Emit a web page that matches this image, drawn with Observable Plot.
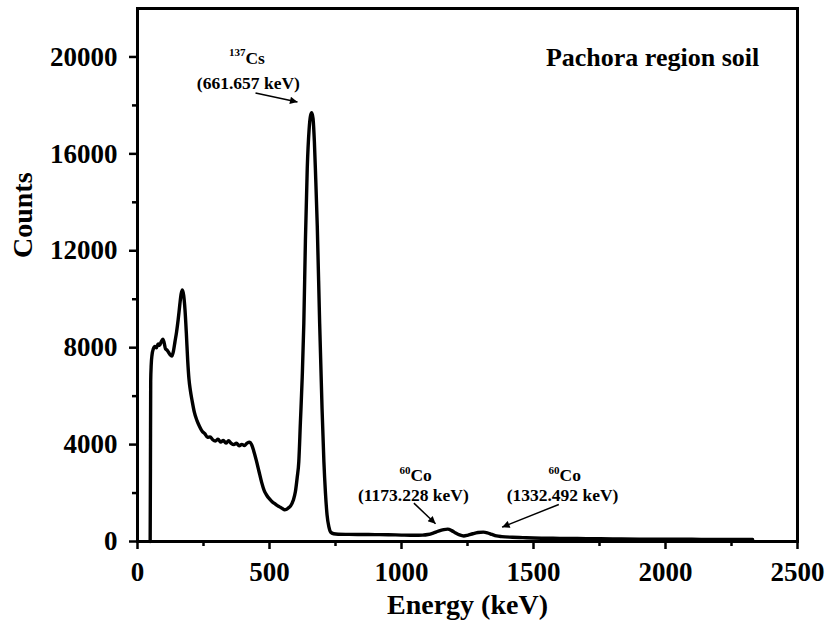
<!DOCTYPE html>
<html>
<head>
<meta charset="utf-8">
<script src="https://cdn.jsdelivr.net/npm/d3@7"></script>
<script src="https://cdn.jsdelivr.net/npm/@observablehq/plot@0.6"></script>
<style>
  html, body { margin: 0; padding: 0; background: #fff; }
</style>
</head>
<body>
<div id="chart"></div>
<script>
// ---- Spectrum data ----
const energyKeV = [
  48, 49, 50, 52, 55, 60, 66, 72, 78, 84, 90, 96, 101, 106, 112, 118, 124, 130, 136, 142,
  148, 154, 160, 165, 170, 175, 180, 185, 190, 195, 200, 207, 215, 225, 235, 245, 255, 265, 275, 285,
  295, 305, 315, 325, 335, 345, 355, 365, 375, 385, 395, 405, 415, 425, 432, 440, 450, 460, 470, 480,
  490, 500, 510, 520, 530, 540, 550, 557, 565, 572, 580, 590, 598, 605, 611, 617, 624, 630, 636, 643,
  650, 655, 660, 665, 670, 675, 681, 690, 699, 706, 712, 718, 725, 732, 743, 760, 800, 850, 900, 950,
  1000, 1050, 1080, 1100, 1120, 1140, 1160, 1175, 1190, 1205, 1220, 1236, 1250, 1270, 1290, 1310, 1325, 1343, 1360, 1380,
  1420, 1460, 1500, 1600, 1700, 1800, 1900, 2000, 2100, 2200, 2330
];
const countsValues = [
  0, 3000, 6600, 7300, 7700, 7950, 8050, 8000, 8150, 8100, 8250, 8350, 8200, 7950, 7900, 7800, 7700, 7650, 7850, 8250,
  8650, 9150, 9750, 10200, 10380, 10150, 9550, 8600, 7500, 6700, 6250, 5800, 5350, 5000, 4750, 4550, 4450, 4300, 4320, 4200,
  4150, 4220, 4100, 4170, 4060, 4160, 4050, 4000, 4060, 3950, 4010, 3960, 4060, 4100, 4000, 3750, 3350, 2900, 2450, 2100,
  1900, 1760, 1640, 1560, 1480, 1420, 1350, 1310, 1330, 1390, 1470, 1700, 2050, 2650, 3300, 4900, 6800, 9000, 12400, 15400,
  17000, 17550, 17700, 17450, 16500, 15000, 13000, 9000, 5500, 3300, 2000, 1100, 600, 380, 320, 300, 295, 290, 285, 280,
  265, 255, 265, 290, 350, 430, 490, 510, 450, 350, 270, 230, 255, 320, 370, 385, 360, 290, 230, 200,
  175, 160, 145, 130, 120, 110, 100, 95, 90, 85, 80
];

// ---- Axis ticks ----
const xMajorTicks = [0, 500, 1000, 1500, 2000, 2500];
const xMinorTicks = [250, 750, 1250, 1750, 2250];
const yMajorTicks = [0, 4000, 8000, 12000, 16000, 20000];
const yMinorTicks = [2000, 6000, 10000, 14000, 18000];

// ---- Texts ----
const titleText = ["Pachora region soil"];
const xLabel = ["Energy (keV)"];
const yLabel = ["Counts"];

// ---- Peak annotations (positions in data units: keV, counts) ----
const isotopeMass = ["137", "60", "60"];
const isotopeElement = ["Cs", "Co", "Co"];
const peakEnergyText = ["(661.657 keV)", "(1173.228 keV)", "(1332.492 keV)"];
const labelEnergy = [420, 1045, 1610];
const labelTopCounts = [19960, 2730, 2730];
const labelLineCounts = [18920, 1900, 1900];
const arrowFromEnergy = [447, 1047, 1596];
const arrowFromCounts = [18510, 1583, 1529];
const arrowToEnergy = [606, 1129, 1381];
const arrowToCounts = [18140, 731, 592];
const titleEnergy = [1951];
const titleCounts = [19960];

// ---- Build tables ----
const spectrum = energyKeV.map((e, i) => ({energy: e, counts: countsValues[i]}));
const labels = isotopeElement.map((el, i) => ({
  mass: isotopeMass[i], el, line: peakEnergyText[i],
  x: labelEnergy[i], yTop: labelTopCounts[i], yLine: labelLineCounts[i]
}));
const arrows = arrowFromEnergy.map((x1, i) => ({
  x1, y1: arrowFromCounts[i], x2: arrowToEnergy[i], y2: arrowToCounts[i]
}));
const titles = titleText.map((t, i) => ({t, x: titleEnergy[i], y: titleCounts[i]}));

const fmt = d3.format("d");

const plot = Plot.plot({
  width: 828,
  height: 631,
  marginLeft: 137,
  marginRight: 31,
  marginTop: 8,
  marginBottom: 90,
  x: {domain: [0, 2500]},
  y: {domain: [0, 22000]},
  style: {
    fontFamily: '"Liberation Serif", "Times New Roman", serif',
    fontWeight: "bold",
    fontSize: "27px",
    color: "#000",
    background: "#fff",
    overflow: "visible"
  },
  marks: [
    Plot.axisX({ticks: xMajorTicks, tickSize: 8, tickPadding: 12, strokeWidth: 2.5, tickFormat: fmt, label: null}),
    Plot.axisX({ticks: xMinorTicks, tickSize: 5, strokeWidth: 2.5, text: null, label: null}),
    Plot.axisY({ticks: yMajorTicks, tickSize: 8, tickPadding: 12, strokeWidth: 2.5, tickFormat: fmt, label: null}),
    Plot.axisY({ticks: yMinorTicks, tickSize: 5, strokeWidth: 2.5, text: null, label: null}),
    Plot.line(spectrum, {x: "energy", y: "counts", curve: "monotone-x", stroke: "#000", strokeWidth: 3.4, strokeLinejoin: "round"}),
    Plot.frame({stroke: "#000", strokeWidth: 3}),
    Plot.link(arrows, {x1: "x1", y1: "y1", x2: "x2", y2: "y2", stroke: "#000", strokeWidth: 1.5}),
    Plot.text(labels, {x: "x", y: "yTop", text: "el", textAnchor: "start", dx: -3, fontSize: 17.5}),
    Plot.text(labels, {x: "x", y: "yTop", text: "mass", textAnchor: "end", dx: -3, dy: -5, fontSize: 11}),
    Plot.text(labels, {x: "x", y: "yLine", text: "line", fontSize: 17.5}),
    Plot.text(titles, {x: "x", y: "y", text: "t", fontSize: 26}),
    Plot.text(xLabel, {frameAnchor: "bottom", dy: 72, fontSize: 28}),
    Plot.text(yLabel, {frameAnchor: "left", dx: -114, dy: -17, rotate: -90, fontSize: 28})
  ]
});

// filled arrowheads on the link marks
const svg = d3.select(plot);
const defs = svg.append("defs");
defs.append("marker")
  .attr("id", "arrowhead-filled")
  .attr("viewBox", "0 0 10 10")
  .attr("refX", 10)
  .attr("refY", 5)
  .attr("markerWidth", 7)
  .attr("markerHeight", 5)
  .attr("orient", "auto")
  .append("path")
  .attr("d", "M0,0L10,5L0,10Z")
  .attr("fill", "#000")
  .attr("stroke", "none");
svg.selectAll('g[aria-label="link"] path').attr("marker-end", "url(#arrowhead-filled)");

document.getElementById("chart").appendChild(plot);
</script>
</body>
</html>
